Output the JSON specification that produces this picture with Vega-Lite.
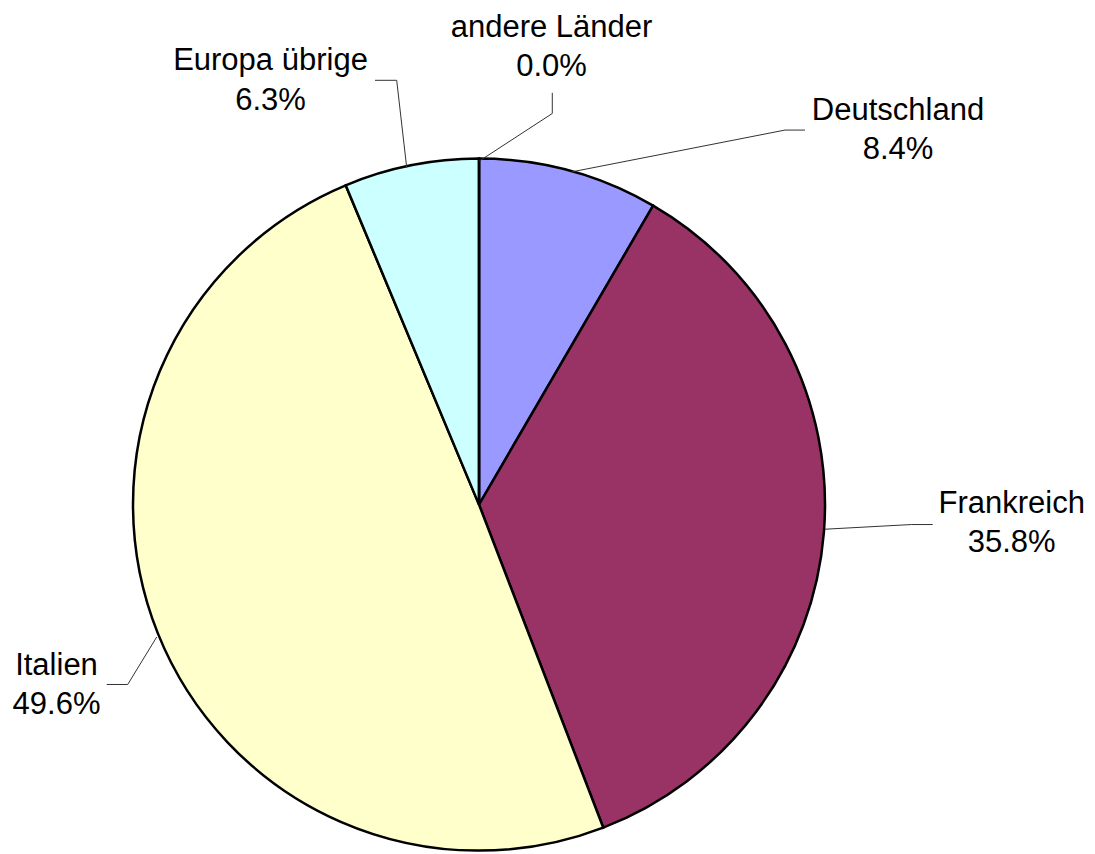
{
  "$schema": "https://vega.github.io/schema/vega-lite/v6.json",
  "width": 1095,
  "height": 854,
  "autosize": {"type": "fit", "contains": "padding"},
  "padding": 0,
  "background": "white",
  "config": {"view": {"stroke": null}},
  "data": {"values": [
    {"category": "Deutschland", "share": 0.084, "order": 1},
    {"category": "Frankreich", "share": 0.358, "order": 2},
    {"category": "Italien", "share": 0.496, "order": 3},
    {"category": "Europa übrige", "share": 0.063, "order": 4},
    {"category": "andere Länder", "share": 0.0, "order": 5}
  ]},
  "layer": [
    {
      "mark": {"type": "arc", "outerRadius": 346, "stroke": "black", "strokeWidth": 2.5, "strokeJoin": "miter"},
      "encoding": {
        "theta": {"field": "share", "type": "quantitative", "stack": true},
        "order": {"field": "order", "type": "quantitative"},
        "color": {"field": "category", "type": "nominal", "legend": null,
          "scale": {"domain": ["Deutschland", "Frankreich", "Italien", "Europa übrige", "andere Länder"],
                    "range": ["#9999FF", "#993366", "#FFFFCC", "#CCFFFF", "#660066"]}},
        "x": {"datum": 0, "type": "quantitative", "axis": null, "scale": {"domain": [-1.3844, 1.7803], "nice": false, "zero": false}},
        "y": {"datum": 0, "type": "quantitative", "axis": null, "scale": {"domain": [-1.0029, 1.4653], "nice": false, "zero": false}}
      }
    },
    {
      "transform": [{"filter": "datum.category === 'andere Länder'"}],
      "layer": [
        {"mark": {"type": "rule", "color": "#333333", "strokeWidth": 1},
         "encoding": {"x": {"datum": 0.0, "type": "quantitative", "axis": null, "scale": {"domain": [-1.3844, 1.7803], "nice": false, "zero": false}},
                      "y": {"datum": 0.9971, "type": "quantitative", "axis": null, "scale": {"domain": [-1.0029, 1.4653], "nice": false, "zero": false}},
                      "x2": {"datum": 0.2118}, "y2": {"datum": 1.1358}}},
        {"mark": {"type": "rule", "color": "#333333", "strokeWidth": 1},
         "encoding": {"x": {"datum": 0.2118, "type": "quantitative", "axis": null, "scale": {"domain": [-1.3844, 1.7803], "nice": false, "zero": false}},
                      "y": {"datum": 1.1358, "type": "quantitative", "axis": null, "scale": {"domain": [-1.0029, 1.4653], "nice": false, "zero": false}},
                      "x2": {"datum": 0.2118}, "y2": {"datum": 1.1957}}},
        {"mark": {"type": "text", "font": "Liberation Sans", "fontSize": 31, "align": "center", "baseline": "alphabetic", "color": "black"},
         "encoding": {"text": {"field": "category", "type": "nominal"},
                      "x": {"datum": 0.2095, "type": "quantitative", "axis": null, "scale": {"domain": [-1.3844, 1.7803], "nice": false, "zero": false}},
                      "y": {"datum": 1.3575, "type": "quantitative", "axis": null, "scale": {"domain": [-1.0029, 1.4653], "nice": false, "zero": false}}}},
        {"mark": {"type": "text", "font": "Liberation Sans", "fontSize": 31, "align": "center", "baseline": "alphabetic", "color": "black"},
         "encoding": {"text": {"field": "share", "type": "quantitative", "format": ".1%"},
                      "x": {"datum": 0.2095, "type": "quantitative", "axis": null, "scale": {"domain": [-1.3844, 1.7803], "nice": false, "zero": false}},
                      "y": {"datum": 1.2436, "type": "quantitative", "axis": null, "scale": {"domain": [-1.0029, 1.4653], "nice": false, "zero": false}}}}
      ]
    },
    {
      "transform": [{"filter": "datum.category === 'Deutschland'"}],
      "layer": [
        {"mark": {"type": "rule", "color": "#333333", "strokeWidth": 1},
         "encoding": {"x": {"datum": 0.2679, "type": "quantitative", "axis": null, "scale": {"domain": [-1.3844, 1.7803], "nice": false, "zero": false}},
                      "y": {"datum": 0.9662, "type": "quantitative", "axis": null, "scale": {"domain": [-1.0029, 1.4653], "nice": false, "zero": false}},
                      "x2": {"datum": 0.8844}, "y2": {"datum": 1.0876}}},
        {"mark": {"type": "rule", "color": "#333333", "strokeWidth": 1},
         "encoding": {"x": {"datum": 0.8844, "type": "quantitative", "axis": null, "scale": {"domain": [-1.3844, 1.7803], "nice": false, "zero": false}},
                      "y": {"datum": 1.0876, "type": "quantitative", "axis": null, "scale": {"domain": [-1.0029, 1.4653], "nice": false, "zero": false}},
                      "x2": {"datum": 0.9422}, "y2": {"datum": 1.0876}}},
        {"mark": {"type": "text", "font": "Liberation Sans", "fontSize": 31, "align": "center", "baseline": "alphabetic", "color": "black"},
         "encoding": {"text": {"field": "category", "type": "nominal"},
                      "x": {"datum": 1.2110, "type": "quantitative", "axis": null, "scale": {"domain": [-1.3844, 1.7803], "nice": false, "zero": false}},
                      "y": {"datum": 1.1165, "type": "quantitative", "axis": null, "scale": {"domain": [-1.0029, 1.4653], "nice": false, "zero": false}}}},
        {"mark": {"type": "text", "font": "Liberation Sans", "fontSize": 31, "align": "center", "baseline": "alphabetic", "color": "black"},
         "encoding": {"text": {"field": "share", "type": "quantitative", "format": ".1%"},
                      "x": {"datum": 1.2110, "type": "quantitative", "axis": null, "scale": {"domain": [-1.3844, 1.7803], "nice": false, "zero": false}},
                      "y": {"datum": 1.0029, "type": "quantitative", "axis": null, "scale": {"domain": [-1.0029, 1.4653], "nice": false, "zero": false}}}}
      ]
    },
    {
      "transform": [{"filter": "datum.category === 'Frankreich'"}],
      "layer": [
        {"mark": {"type": "rule", "color": "#333333", "strokeWidth": 1},
         "encoding": {"x": {"datum": 1.0, "type": "quantitative", "axis": null, "scale": {"domain": [-1.3844, 1.7803], "nice": false, "zero": false}},
                      "y": {"datum": -0.0714, "type": "quantitative", "axis": null, "scale": {"domain": [-1.0029, 1.4653], "nice": false, "zero": false}},
                      "x2": {"datum": 1.2506}, "y2": {"datum": -0.0578}}},
        {"mark": {"type": "rule", "color": "#333333", "strokeWidth": 1},
         "encoding": {"x": {"datum": 1.2506, "type": "quantitative", "axis": null, "scale": {"domain": [-1.3844, 1.7803], "nice": false, "zero": false}},
                      "y": {"datum": -0.0578, "type": "quantitative", "axis": null, "scale": {"domain": [-1.0029, 1.4653], "nice": false, "zero": false}},
                      "x2": {"datum": 1.3113}, "y2": {"datum": -0.0578}}},
        {"mark": {"type": "text", "font": "Liberation Sans", "fontSize": 31, "align": "center", "baseline": "alphabetic", "color": "black"},
         "encoding": {"text": {"field": "category", "type": "nominal"},
                      "x": {"datum": 1.5396, "type": "quantitative", "axis": null, "scale": {"domain": [-1.3844, 1.7803], "nice": false, "zero": false}},
                      "y": {"datum": -0.0251, "type": "quantitative", "axis": null, "scale": {"domain": [-1.0029, 1.4653], "nice": false, "zero": false}}}},
        {"mark": {"type": "text", "font": "Liberation Sans", "fontSize": 31, "align": "center", "baseline": "alphabetic", "color": "black"},
         "encoding": {"text": {"field": "share", "type": "quantitative", "format": ".1%"},
                      "x": {"datum": 1.5396, "type": "quantitative", "axis": null, "scale": {"domain": [-1.3844, 1.7803], "nice": false, "zero": false}},
                      "y": {"datum": -0.1387, "type": "quantitative", "axis": null, "scale": {"domain": [-1.0029, 1.4653], "nice": false, "zero": false}}}}
      ]
    },
    {
      "transform": [{"filter": "datum.category === 'Italien'"}],
      "layer": [
        {"mark": {"type": "rule", "color": "#333333", "strokeWidth": 1},
         "encoding": {"x": {"datum": -0.9315, "type": "quantitative", "axis": null, "scale": {"domain": [-1.3844, 1.7803], "nice": false, "zero": false}},
                      "y": {"datum": -0.3844, "type": "quantitative", "axis": null, "scale": {"domain": [-1.0029, 1.4653], "nice": false, "zero": false}},
                      "x2": {"datum": -1.0153}, "y2": {"datum": -0.5223}}},
        {"mark": {"type": "rule", "color": "#333333", "strokeWidth": 1},
         "encoding": {"x": {"datum": -1.0153, "type": "quantitative", "axis": null, "scale": {"domain": [-1.3844, 1.7803], "nice": false, "zero": false}},
                      "y": {"datum": -0.5223, "type": "quantitative", "axis": null, "scale": {"domain": [-1.0029, 1.4653], "nice": false, "zero": false}},
                      "x2": {"datum": -1.0760}, "y2": {"datum": -0.5223}}},
        {"mark": {"type": "text", "font": "Liberation Sans", "fontSize": 31, "align": "center", "baseline": "alphabetic", "color": "black"},
         "encoding": {"text": {"field": "category", "type": "nominal"},
                      "x": {"datum": -1.2211, "type": "quantitative", "axis": null, "scale": {"domain": [-1.3844, 1.7803], "nice": false, "zero": false}},
                      "y": {"datum": -0.4951, "type": "quantitative", "axis": null, "scale": {"domain": [-1.0029, 1.4653], "nice": false, "zero": false}}}},
        {"mark": {"type": "text", "font": "Liberation Sans", "fontSize": 31, "align": "center", "baseline": "alphabetic", "color": "black"},
         "encoding": {"text": {"field": "share", "type": "quantitative", "format": ".1%"},
                      "x": {"datum": -1.2211, "type": "quantitative", "axis": null, "scale": {"domain": [-1.3844, 1.7803], "nice": false, "zero": false}},
                      "y": {"datum": -0.6078, "type": "quantitative", "axis": null, "scale": {"domain": [-1.0029, 1.4653], "nice": false, "zero": false}}}}
      ]
    },
    {
      "transform": [{"filter": "datum.category === 'Europa übrige'"}],
      "layer": [
        {"mark": {"type": "rule", "color": "#333333", "strokeWidth": 1},
         "encoding": {"x": {"datum": -0.2090, "type": "quantitative", "axis": null, "scale": {"domain": [-1.3844, 1.7803], "nice": false, "zero": false}},
                      "y": {"datum": 0.9789, "type": "quantitative", "axis": null, "scale": {"domain": [-1.0029, 1.4653], "nice": false, "zero": false}},
                      "x2": {"datum": -0.2379}, "y2": {"datum": 1.2321}}},
        {"mark": {"type": "rule", "color": "#333333", "strokeWidth": 1},
         "encoding": {"x": {"datum": -0.2379, "type": "quantitative", "axis": null, "scale": {"domain": [-1.3844, 1.7803], "nice": false, "zero": false}},
                      "y": {"datum": 1.2321, "type": "quantitative", "axis": null, "scale": {"domain": [-1.0029, 1.4653], "nice": false, "zero": false}},
                      "x2": {"datum": -0.3006}, "y2": {"datum": 1.2321}}},
        {"mark": {"type": "text", "font": "Liberation Sans", "fontSize": 31, "align": "center", "baseline": "alphabetic", "color": "black"},
         "encoding": {"text": {"field": "category", "type": "nominal"},
                      "x": {"datum": -0.6026, "type": "quantitative", "axis": null, "scale": {"domain": [-1.3844, 1.7803], "nice": false, "zero": false}},
                      "y": {"datum": 1.2610, "type": "quantitative", "axis": null, "scale": {"domain": [-1.0029, 1.4653], "nice": false, "zero": false}}}},
        {"mark": {"type": "text", "font": "Liberation Sans", "fontSize": 31, "align": "center", "baseline": "alphabetic", "color": "black"},
         "encoding": {"text": {"field": "share", "type": "quantitative", "format": ".1%"},
                      "x": {"datum": -0.6026, "type": "quantitative", "axis": null, "scale": {"domain": [-1.3844, 1.7803], "nice": false, "zero": false}},
                      "y": {"datum": 1.1445, "type": "quantitative", "axis": null, "scale": {"domain": [-1.0029, 1.4653], "nice": false, "zero": false}}}}
      ]
    }
  ]
}
